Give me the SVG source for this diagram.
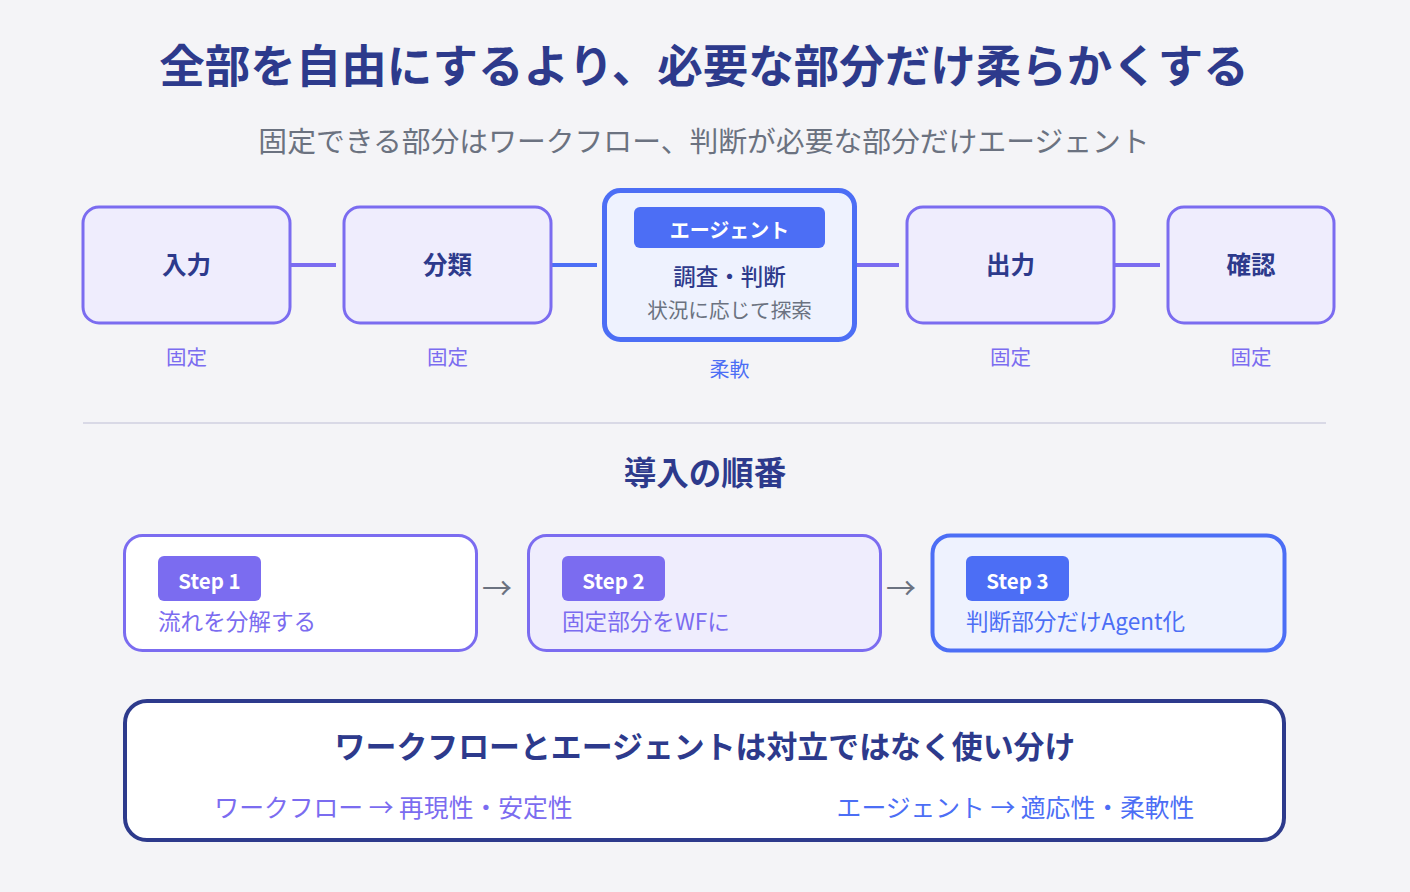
<svg xmlns="http://www.w3.org/2000/svg" width="1410" height="892" viewBox="0 0 1410 892">
<style>
text{font-family:"Noto Sans CJK JP","Noto Sans",sans-serif;}
.ttl{font-size:45.5px;font-weight:700;fill:#2d3a8c;text-anchor:middle;}
.sub{font-size:28.8px;fill:#6b7280;text-anchor:middle;}
.box{fill:#efedfd;stroke:#7b6cf0;stroke-width:3;}
.nl{font-size:24.5px;font-weight:700;fill:#2d3a8c;text-anchor:middle;}
.fx{font-size:20.5px;fill:#7b6cf0;text-anchor:middle;}
.con{stroke-width:4;fill:none;}
.badge{font-size:20.5px;font-weight:700;fill:#fff;text-anchor:middle;}
.desc{font-size:22.6px;}
.arr{font-size:30px;fill:#6b7280;text-anchor:middle;}
</style>
<rect width="1410" height="892" fill="#f4f4f7"/>
<text class="ttl" x="704" y="83">全部を自由にするより、必要な部分だけ柔らかくする</text>
<text class="sub" x="704" y="152">固定できる部分はワークフロー、判断が必要な部分だけエージェント</text>

<g id="connectors">
<line class="con" x1="290" y1="265" x2="336" y2="265" stroke="#7b6cf0"/>
<line class="con" x1="551" y1="265" x2="597" y2="265" stroke="#4c6ef5"/>
<line class="con" x1="855" y1="265" x2="899" y2="265" stroke="#7b6cf0"/>
<line class="con" x1="1114" y1="265" x2="1160" y2="265" stroke="#7b6cf0"/>
<text class="arr" x="497" y="599">→</text>
<text class="arr" x="901" y="599">→</text>
</g>

<g id="node-input">
<rect class="box" x="83" y="207" width="207" height="116" rx="16"/>
<text class="nl" x="186.5" y="274">入力</text>
<text class="fx" x="186.5" y="365">固定</text>
</g>
<g id="node-classify">
<rect class="box" x="344" y="207" width="207" height="116" rx="16"/>
<text class="nl" x="447.5" y="274">分類</text>
<text class="fx" x="447.5" y="365">固定</text>
</g>
<g id="node-agent">
<rect x="604.5" y="190.5" width="250" height="149" rx="16" fill="#eef2fe" stroke="#4c6ef5" stroke-width="5"/>
<rect x="634" y="207" width="191" height="41" rx="6" fill="#4c6ef5"/>
<text class="badge" x="729.5" y="238" style="font-size:20px">エージェント</text>
<text x="729.5" y="285" text-anchor="middle" style="font-size:22.5px;font-weight:500;fill:#2d3a8c">調査・判断</text>
<text x="729.5" y="318" text-anchor="middle" style="font-size:20.6px;fill:#6b7280">状況に応じて探索</text>
<text x="729.5" y="377" text-anchor="middle" style="font-size:20px;fill:#4c6ef5">柔軟</text>
</g>
<g id="node-output">
<rect class="box" x="907" y="207" width="207" height="116" rx="16"/>
<text class="nl" x="1010.5" y="274">出力</text>
<text class="fx" x="1010.5" y="365">固定</text>
</g>
<g id="node-confirm">
<rect class="box" x="1168" y="207" width="166" height="116" rx="16"/>
<text class="nl" x="1251" y="274">確認</text>
<text class="fx" x="1251" y="365">固定</text>
</g>

<line x1="83" y1="423" x2="1326" y2="423" stroke="#d9d9e6" stroke-width="2"/>
<text x="705" y="485" text-anchor="middle" style="font-size:32.5px;font-weight:700;fill:#2d3a8c">導入の順番</text>

<g id="step1">
<rect x="124.5" y="535.5" width="352" height="115" rx="18" fill="#ffffff" stroke="#7b6cf0" stroke-width="3"/>
<rect x="158" y="556" width="103" height="45" rx="6" fill="#7b6cf0"/>
<text class="badge" x="209.5" y="589">Step 1</text>
<text class="desc" x="158" y="630" fill="#7b6cf0">流れを分解する</text>
</g>
<g id="step2">
<rect x="528.5" y="535.5" width="352" height="115" rx="18" fill="#efedfd" stroke="#7b6cf0" stroke-width="3"/>
<rect x="562" y="556" width="103" height="45" rx="6" fill="#7b6cf0"/>
<text class="badge" x="613.5" y="589">Step 2</text>
<text class="desc" x="562" y="630" fill="#7b6cf0">固定部分をWFに</text>
</g>
<g id="step3">
<rect x="932.5" y="535.5" width="352" height="115" rx="18" fill="#eef2fe" stroke="#4c6ef5" stroke-width="4"/>
<rect x="966" y="556" width="103" height="45" rx="6" fill="#4c6ef5"/>
<text class="badge" x="1017.5" y="589">Step 3</text>
<text class="desc" x="966" y="630" fill="#4c6ef5">判断部分だけAgent化</text>
</g>

<g id="summary">
<rect x="125" y="701" width="1159" height="139" rx="22" fill="#ffffff" stroke="#2d3a8c" stroke-width="4"/>
<text x="705" y="758" text-anchor="middle" style="font-size:30.9px;font-weight:700;fill:#2d3a8c">ワークフローとエージェントは対立ではなく使い分け</text>
<text x="393.5" y="817" text-anchor="middle" style="font-size:24.8px;fill:#7b6cf0">ワークフロー → 再現性・安定性</text>
<text x="1015.5" y="817" text-anchor="middle" style="font-size:24.8px;fill:#4c6ef5">エージェント → 適応性・柔軟性</text>
</g>
</svg>
